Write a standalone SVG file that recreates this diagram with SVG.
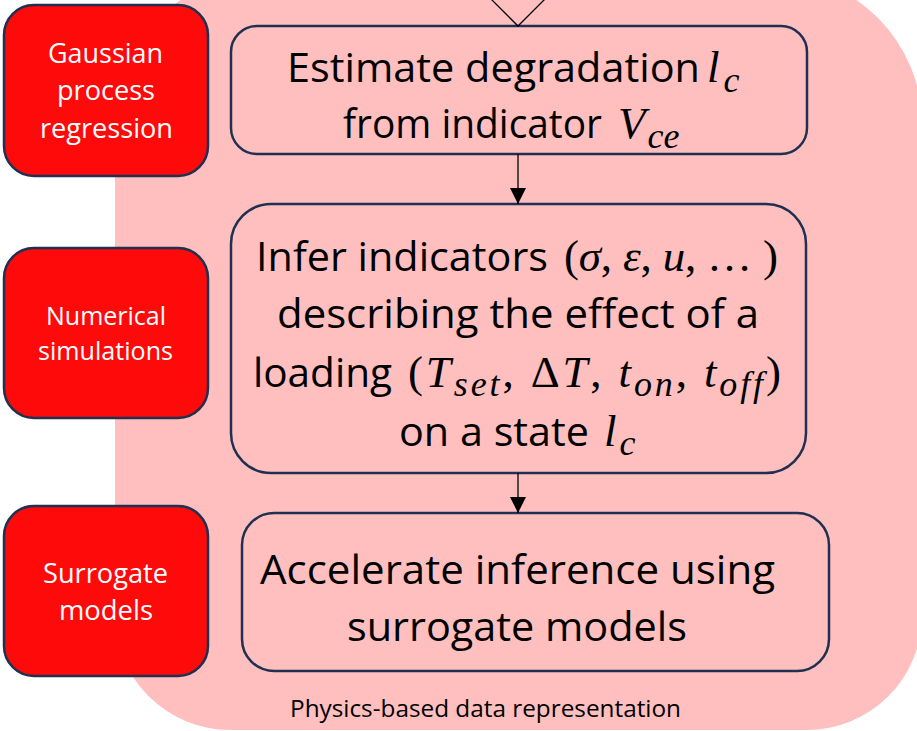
<svg xmlns="http://www.w3.org/2000/svg" width="917" height="731" viewBox="0 0 917 731">
<style>
.bg{fill:#FFBFBF;}
.red{fill:#FF0A0A;stroke:#1F3050;stroke-width:2.5;}
.box{fill:#FFBFBF;stroke:#1F3050;stroke-width:2.5;}
.wt{font-family:"Open Sans","Liberation Sans",sans-serif;fill:#FFFFFF;text-anchor:middle;}
.bt{font-family:"Open Sans","Liberation Sans",sans-serif;fill:#000000;font-size:41px;}
.mt{font-family:"Liberation Serif","DejaVu Serif",serif;fill:#000000;font-size:45px;}
.m{font-style:italic;}
.s{font-style:italic;font-size:36px;}
.cap{font-family:"Open Sans","Liberation Sans",sans-serif;fill:#000000;font-size:23px;}
.conn{stroke:#000000;stroke-width:1.3;fill:none;}
</style>
<defs>
<marker id="ah" markerUnits="userSpaceOnUse" markerWidth="16" markerHeight="17" refX="8" refY="16" orient="0" viewBox="0 0 16 17">
<path d="M0,0 L16,0 L8,16 Z" fill="#000000"/>
</marker>
</defs>
<g id="background">
<path class="bg" d="M265,-26 H772 A150,150 0 0 1 922,124 V615 A115,115 0 0 1 807,730 H230 A115,115 0 0 1 115,615 V124 A150,150 0 0 1 265,-26 Z"/>
<text class="cap" x="290" y="717" textLength="391" lengthAdjust="spacingAndGlyphs">Physics-based data representation</text>
</g>
<g id="gpr">
<rect class="red" x="4" y="5" width="204" height="171" rx="30" ry="30"/>
<text class="wt" font-size="27" x="105.5" y="63" textLength="115" lengthAdjust="spacingAndGlyphs">Gaussian</text>
<text class="wt" font-size="27" x="106" y="100" textLength="98" lengthAdjust="spacingAndGlyphs">process</text>
<text class="wt" font-size="27" x="106.5" y="138" textLength="133" lengthAdjust="spacingAndGlyphs">regression</text>
</g>
<g id="numsim">
<rect class="red" x="4" y="248" width="204" height="170" rx="30" ry="30"/>
<text class="wt" font-size="25" x="106" y="325" textLength="120" lengthAdjust="spacingAndGlyphs">Numerical</text>
<text class="wt" font-size="25" x="105.5" y="360" textLength="135" lengthAdjust="spacingAndGlyphs">simulations</text>
</g>
<g id="surr">
<rect class="red" x="4" y="506" width="204" height="170" rx="30" ry="30"/>
<text class="wt" font-size="27" x="105.5" y="583" textLength="125" lengthAdjust="spacingAndGlyphs">Surrogate</text>
<text class="wt" font-size="27" x="106" y="620" textLength="94" lengthAdjust="spacingAndGlyphs">models</text>
</g>
<g id="estimate">
<rect class="box" x="231" y="26" width="576" height="128" rx="26" ry="26"/>
<text class="bt" x="287" y="82" textLength="413" lengthAdjust="spacingAndGlyphs">Estimate degradation</text>
<text class="mt" x="707" y="82" font-size="48"><tspan class="m">l</tspan><tspan class="s" dx="4" dy="10" font-size="40">c</tspan></text>
<text class="bt" x="343" y="138" font-size="38" textLength="259" lengthAdjust="spacingAndGlyphs">from indicator</text>
<text class="mt" x="618" y="138" font-size="48"><tspan class="m">V</tspan><tspan class="s" dx="2" dy="10" font-size="42">ce</tspan></text>
</g>
<g id="infer">
<rect class="box" x="231" y="204" width="575" height="269" rx="40" ry="40"/>
<text class="bt" x="256" y="271" textLength="292" lengthAdjust="spacingAndGlyphs">Infer indicators</text>
<text class="mt" x="564" y="271" textLength="214">(<tspan class="m">σ</tspan>, <tspan class="m">ε</tspan>, <tspan class="m">u</tspan>, … )</text>
<text class="bt" x="277" y="328" textLength="482" lengthAdjust="spacingAndGlyphs">describing the effect of a</text>
<text class="bt" x="253" y="387" textLength="139" lengthAdjust="spacingAndGlyphs">loading</text>
<text class="mt" x="408" y="387" textLength="373">(<tspan class="m">T</tspan><tspan class="s" dy="9">set</tspan><tspan dy="-9">, Δ</tspan><tspan class="m">T</tspan>, <tspan class="m">t</tspan><tspan class="s" dy="9">on</tspan><tspan dy="-9">, </tspan><tspan class="m">t</tspan><tspan class="s" dy="9">off</tspan><tspan dy="-9">)</tspan></text>
<text class="bt" x="399" y="446" textLength="190" lengthAdjust="spacingAndGlyphs">on a state</text>
<text class="mt" x="604" y="446"><tspan class="m">l</tspan><tspan class="s" dx="3" dy="9">c</tspan></text>
</g>
<g id="accelerate">
<rect class="box" x="242" y="513" width="587" height="158" rx="32" ry="32"/>
<text class="bt" x="260" y="584" textLength="515" lengthAdjust="spacingAndGlyphs">Accelerate inference using</text>
<text class="bt" x="347" y="641" textLength="340" lengthAdjust="spacingAndGlyphs">surrogate models</text>
</g>
<g id="connectors">
<polyline class="conn" stroke-width="2.8" points="490,-2 518,26 546,-2"/>
<line class="conn" x1="518" y1="154" x2="518" y2="204" marker-end="url(#ah)"/>
<line class="conn" x1="518" y1="473" x2="518" y2="513" marker-end="url(#ah)"/>
</g>
</svg>
